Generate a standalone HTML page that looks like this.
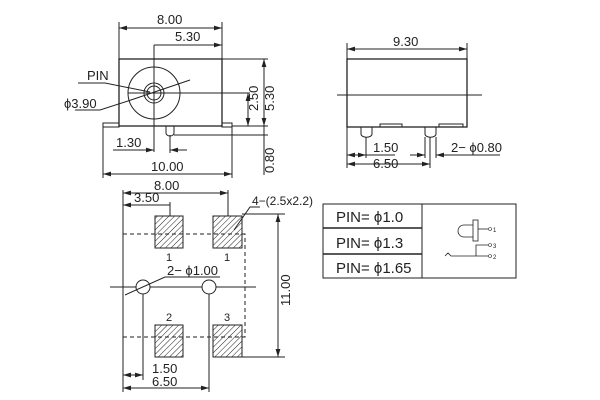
<html><body style="margin:0;background:#fff">
<svg width="600" height="400" viewBox="0 0 600 400" xmlns="http://www.w3.org/2000/svg" font-family="Liberation Sans, sans-serif" fill="none" stroke="#222" stroke-width="1">
<defs>
<marker id="a" viewBox="0 0 10 6" refX="10" refY="3" markerWidth="8" markerHeight="5" orient="auto-start-reverse"><path d="M0,0L10,3L0,6z" fill="#222" stroke="none"/></marker>
<pattern id="h" width="4" height="4" patternUnits="userSpaceOnUse" patternTransform="rotate(45)"><line x1="0" y1="0" x2="0" y2="4" stroke="#222" stroke-width="1"/></pattern>
</defs>
<!-- top-left view -->
<rect x="119" y="59" width="103" height="67" stroke-width="1.3"/>
<rect x="103" y="123" width="16" height="4"/><rect x="222" y="123" width="10" height="4"/>
<path d="M166,126v7a4,3 0 0 0 8,0v-7"/>
<circle cx="154" cy="93" r="26"/><circle cx="154" cy="93" r="10"/><circle cx="154" cy="93" r="7"/>
<line x1="154" y1="45" x2="154" y2="152"/><line x1="128" y1="93" x2="250" y2="93"/>
<line x1="119" y1="22" x2="119" y2="59"/><line x1="222" y1="22" x2="222" y2="59"/>
<line x1="119" y1="28" x2="222" y2="28" marker-start="url(#a)" marker-end="url(#a)"/>
<line x1="154" y1="45" x2="222" y2="45" marker-end="url(#a)"/>
<line x1="222" y1="59" x2="268" y2="59"/><line x1="232" y1="126" x2="268" y2="126"/><line x1="174" y1="135" x2="268" y2="135"/>
<line x1="264" y1="59" x2="264" y2="126" marker-start="url(#a)" marker-end="url(#a)"/>
<line x1="248" y1="93" x2="248" y2="126" marker-start="url(#a)" marker-end="url(#a)"/>
<line x1="264" y1="126" x2="264" y2="175"/>
<line x1="103" y1="127" x2="103" y2="178"/><line x1="232" y1="127" x2="232" y2="178"/>
<line x1="103" y1="174" x2="232" y2="174" marker-start="url(#a)" marker-end="url(#a)"/>
<line x1="170" y1="135" x2="170" y2="153"/>
<line x1="113" y1="150" x2="154" y2="150" marker-end="url(#a)"/><line x1="187" y1="150" x2="170" y2="150" marker-end="url(#a)"/>
<path d="M78,83h27L150,92" /><path d="M75,110h25L128,101"/>
<line x1="128" y1="101" x2="190" y2="80"/>
<g fill="#222" stroke="none" font-size="13">
<text x="157" y="24">8.00</text><text x="175" y="41">5.30</text>
<text x="87" y="80">PIN</text><text x="64" y="108">ϕ3.90</text>
<text x="116" y="147">1.30</text><text x="151" y="171">10.00</text>
<text transform="translate(258,111) rotate(-90)">2.50</text>
<text transform="translate(274,111) rotate(-90)">5.30</text>
<text transform="translate(274,173) rotate(-90)">0.80</text>
</g>
<!-- top-right view -->
<rect x="347" y="59" width="120" height="68" stroke-width="1.3"/>
<line x1="337" y1="95" x2="482" y2="95"/>
<rect x="380" y="124" width="22" height="3"/><rect x="439" y="124" width="24" height="3"/>
<path d="M361,127v7a5,3 0 0 0 11,0v-7"/><path d="M425,127v7a5,3 0 0 0 11,0v-7"/>
<line x1="347" y1="43" x2="347" y2="59"/><line x1="467" y1="43" x2="467" y2="59"/>
<line x1="347" y1="49" x2="467" y2="49" marker-start="url(#a)" marker-end="url(#a)"/>
<line x1="347" y1="127" x2="347" y2="168"/><line x1="366" y1="137" x2="366" y2="158"/><line x1="430" y1="137" x2="430" y2="168"/><line x1="425" y1="137" x2="425" y2="158"/><line x1="436" y1="137" x2="436" y2="158"/>
<line x1="347" y1="155" x2="366" y2="155" marker-start="url(#a)" marker-end="url(#a)"/>
<line x1="366" y1="155" x2="395" y2="155"/>
<line x1="410" y1="155" x2="425" y2="155" marker-end="url(#a)"/><line x1="450" y1="155" x2="436" y2="155" marker-end="url(#a)"/><line x1="450" y1="155" x2="500" y2="155"/>
<line x1="347" y1="164" x2="430" y2="164" marker-start="url(#a)" marker-end="url(#a)"/>
<g fill="#222" stroke="none" font-size="13">
<text x="393" y="46">9.30</text><text x="373" y="152">1.50</text><text x="373" y="168">6.50</text><text x="451" y="152">2− ϕ0.80</text>
</g>
<!-- bottom view -->
<rect x="123" y="234" width="122" height="103" stroke-dasharray="4,3"/>
<line x1="123" y1="190" x2="123" y2="392"/>
<g fill="url(#h)" stroke="#222"><rect x="155" y="216" width="28" height="32"/><rect x="213" y="216" width="29" height="32"/><rect x="155" y="325" width="28" height="32"/><rect x="213" y="325" width="29" height="32"/></g>
<line x1="110" y1="287" x2="256" y2="287"/>
<circle cx="143" cy="287" r="7" fill="#fff"/><circle cx="209" cy="287" r="7" fill="#fff"/>
<path d="M125,295L165,277h55"/>
<line x1="143" y1="294" x2="143" y2="380"/><line x1="209" y1="294" x2="209" y2="392"/>
<line x1="228" y1="190" x2="228" y2="216"/><line x1="170" y1="202" x2="170" y2="216"/>
<line x1="123" y1="193" x2="228" y2="193" marker-start="url(#a)" marker-end="url(#a)"/>
<line x1="123" y1="205" x2="170" y2="205" marker-start="url(#a)"/>
<line x1="242" y1="214" x2="285" y2="214"/><line x1="242" y1="357" x2="285" y2="357"/>
<line x1="278" y1="214" x2="278" y2="357" marker-start="url(#a)" marker-end="url(#a)"/>
<path d="M234,230L250,207h10"/>
<line x1="123" y1="375" x2="143" y2="375" marker-start="url(#a)" marker-end="url(#a)"/>
<line x1="123" y1="388" x2="209" y2="388" marker-start="url(#a)" marker-end="url(#a)"/>
<g fill="#222" stroke="none" font-size="13">
<text x="154" y="190">8.00</text><text x="134" y="202">3.50</text><text x="252" y="205" font-size="12">4−(2.5x2.2)</text>
<text x="166" y="261" font-size="11">1</text><text x="224" y="261" font-size="11">1</text>
<text x="166" y="321" font-size="11">2</text><text x="224" y="321" font-size="11">3</text>
<text x="167" y="275">2− ϕ1.00</text>
<text x="152" y="373">1.50</text><text x="152" y="386">6.50</text>
<text transform="translate(290,306) rotate(-90)">11.00</text>
</g>
<!-- table -->
<rect x="323" y="204" width="193" height="74"/>
<line x1="323" y1="228" x2="422" y2="228" stroke-width="1.5"/><line x1="323" y1="254" x2="422" y2="254" stroke-width="1.5"/>
<line x1="422" y1="204" x2="422" y2="278"/>
<g fill="#222" stroke="none" font-size="15"><text x="336" y="222">PIN= ϕ1.0</text><text x="336" y="248">PIN= ϕ1.3</text><text x="336" y="273">PIN= ϕ1.65</text></g>
<path d="M473,225h-9a6,6 0 0 0 0,12h9" stroke-width="0.8"/>
<rect x="473" y="220" width="5" height="21" stroke-width="0.8"/>
<line x1="478" y1="229" x2="488" y2="229" stroke-width="0.8"/>
<path d="M476,250v-5h12" stroke-width="0.8"/><line x1="476" y1="250" x2="476" y2="256" stroke-width="0.8"/>
<path d="M445,256l3,-3l3,3h37" stroke-width="0.8"/>
<g stroke-width="0.6"><circle cx="490" cy="229" r="1.5"/><circle cx="490" cy="245" r="1.5"/><circle cx="490" cy="256" r="1.5"/></g>
<g fill="#222" stroke="none" font-size="6"><text x="493" y="232">1</text><text x="493" y="248">3</text><text x="493" y="259">2</text></g>
</svg>
</body></html>
